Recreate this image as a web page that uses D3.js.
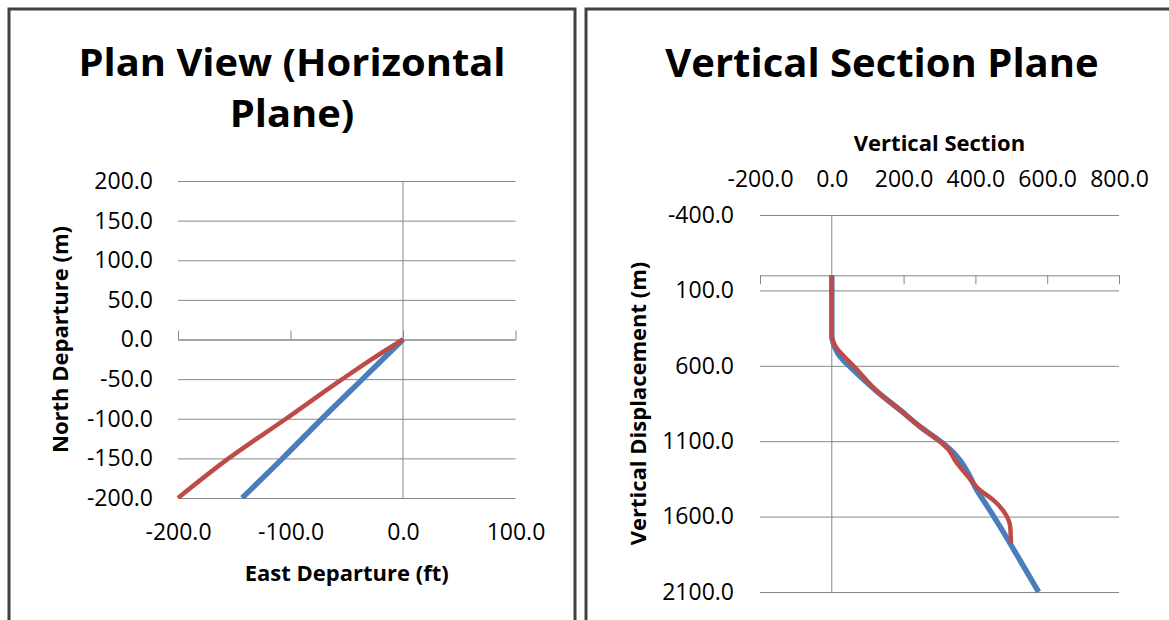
<!DOCTYPE html>
<html>
<head>
<meta charset="utf-8">
<script src="https://cdn.jsdelivr.net/npm/d3@7"></script>
<style>
  html, body { margin: 0; padding: 0; background: #fff; }
  svg { display: block; }
  text { font-family: "Open Sans", sans-serif; fill: #000; }
</style>
</head>
<body>
<svg id="chart" width="1169" height="620"></svg>
<script>
// ---------- data ----------
const planXTicks = [-200, -100, 0, 100];
const planYTicks = [-200, -150, -100, -50, 0, 50, 100, 150, 200];
// Plan view: East departure (x), North departure (y)
const planBlueEast  = [0, -36, -72, -107, -143];
const planBlueNorth = [0, -50, -100, -150, -200];
const planRedEast   = [0, -29, -54, -104, -155, -200];
const planRedNorth  = [0, -26, -50, -100, -150, -200];

const vsXTicks = [-200, 0, 200, 400, 600, 800];
const vsYTicks = [-400, 100, 600, 1100, 1600, 2100];
// Vertical section: section (x) vs vertical displacement (y)
const vsBlueSec   = [0, 0, 3, 9, 20, 33, 48, 132, 190, 246, 302, 330, 357, 385, 404, 422, 446, 469, 497, 576];
const vsBlueDepth = [0, 400, 440, 480, 530, 565, 600, 783, 893, 1004, 1100, 1155, 1226, 1336, 1425, 1491, 1580, 1668, 1779, 2100];
const vsRedSec    = [0, 0, 4, 14, 35, 60, 132, 190, 246, 300, 325, 343, 380, 413, 450, 483, 497, 499];
const vsRedDepth  = [0, 400, 445, 484, 540, 600, 783, 893, 1004, 1100, 1155, 1226, 1336, 1425, 1491, 1580, 1668, 1780];

const planTitle = ["Plan View (Horizontal", "Plane)"];

// ---------- styles ----------
const GRID = "#878787";
const BLUE = "#4A7EBB";
const RED = "#BE4B48";
const LABEL_SIZE = 23;
const fmt = d => d.toFixed(1);

const svg = d3.select("#chart");

// panel borders
svg.append("rect").attr("x", 9).attr("y", 9).attr("width", 566).attr("height", 640)
  .attr("fill", "none").attr("stroke", "#404040").attr("stroke-width", 3);
svg.append("rect").attr("x", 586).attr("y", 9).attr("width", 640).attr("height", 640)
  .attr("fill", "none").attr("stroke", "#404040").attr("stroke-width", 3);

// ================= LEFT: Plan View =================
const xL = d3.scaleLinear().domain([-200, 100]).range([178, 515.5]);
const yL = d3.scaleLinear().domain([-200, 200]).range([498, 181]);

// two-line title, slightly widened to match the reference proportions
const titleLines = svg.selectAll("text.ptitle").data(planTitle).join("text")
  .attr("class", "ptitle")
  .attr("x", 292).attr("y", (d, i) => 76 + i * 51)
  .attr("text-anchor", "middle").attr("font-size", 37).attr("font-weight", "bold")
  .text(d => d);
const widen = 427 / titleLines.node().getComputedTextLength();
titleLines.each(function () {
  const w = this.getComputedTextLength();
  d3.select(this).attr("textLength", w * widen).attr("lengthAdjust", "spacingAndGlyphs");
});

// y gridlines + labels
const gyL = svg.append("g").attr("transform", `translate(${xL(-200)},0)`)
  .call(d3.axisLeft(yL).tickValues(planYTicks).tickFormat(fmt)
    .tickSize(-(xL(100) - xL(-200))).tickPadding(25));
gyL.select(".domain").remove();
gyL.selectAll("line").attr("stroke", GRID);
gyL.selectAll("text").attr("font-size", LABEL_SIZE).attr("font-family", "Open Sans").attr("fill", "#000");

// vertical axis line at x=0
svg.append("line").attr("x1", xL(0)).attr("x2", xL(0)).attr("y1", yL(200)).attr("y2", yL(-200))
  .attr("stroke", GRID);

// horizontal axis at y=0 with ticks pointing up
const axL = svg.append("g").attr("transform", `translate(0,${yL(0)})`)
  .call(d3.axisTop(xL).tickValues(planXTicks).tickFormat("").tickSize(9).tickSizeOuter(0));
axL.selectAll("line,path").attr("stroke", GRID);

// x labels at bottom
const lxL = svg.append("g").attr("transform", `translate(0,${yL(-200)})`)
  .call(d3.axisBottom(xL).tickValues(planXTicks).tickFormat(fmt).tickSize(0).tickPadding(26));
lxL.select(".domain").remove();
lxL.selectAll("text").attr("font-size", LABEL_SIZE).attr("font-family", "Open Sans").attr("fill", "#000");

svg.append("text").attr("x", (xL(-200) + xL(100)) / 2).attr("y", 581).attr("text-anchor", "middle")
  .attr("font-size", 22).attr("font-weight", "bold").text("East Departure (ft)");
svg.append("text").attr("transform", `translate(68,${(yL(-200) + yL(200)) / 2}) rotate(-90)`)
  .attr("text-anchor", "middle").attr("font-size", 22).attr("font-weight", "bold")
  .text("North Departure (m)");

svg.append("clipPath").attr("id", "clipL").append("rect")
  .attr("x", xL(-200) - 4).attr("y", yL(200)).attr("width", xL(100) - xL(-200) + 8)
  .attr("height", yL(-200) - yL(200) + 1);

const lineL = d3.line().x(d => xL(d[0])).y(d => yL(d[1])).curve(d3.curveMonotoneY);
const gL = svg.append("g").attr("clip-path", "url(#clipL)");
gL.append("path").datum(planBlueEast.map((e, i) => [e, planBlueNorth[i]]))
  .attr("d", lineL).attr("fill", "none").attr("stroke", BLUE).attr("stroke-width", 5.5);
gL.append("path").datum(planRedEast.map((e, i) => [e, planRedNorth[i]]))
  .attr("d", lineL).attr("fill", "none").attr("stroke", RED).attr("stroke-width", 4.5);

// ================= RIGHT: Vertical Section =================
const xR = d3.scaleLinear().domain([-200, 800]).range([760, 1119]);
const yR = d3.scaleLinear().domain([-400, 2100]).range([215, 592]);

svg.append("text").attr("x", 882).attr("y", 77).attr("text-anchor", "middle")
  .attr("font-size", 40).attr("font-weight", "bold").text("Vertical Section Plane");

svg.append("text").attr("x", (xR(-200) + xR(800)) / 2).attr("y", 151).attr("text-anchor", "middle")
  .attr("font-size", 22).attr("font-weight", "bold").text("Vertical Section");

const gyR = svg.append("g").attr("transform", `translate(${xR(-200)},0)`)
  .call(d3.axisLeft(yR).tickValues(vsYTicks).tickFormat(fmt)
    .tickSize(-(xR(800) - xR(-200))).tickPadding(26));
gyR.select(".domain").remove();
gyR.selectAll("line").attr("stroke", GRID);
gyR.selectAll("text").attr("font-size", LABEL_SIZE).attr("font-family", "Open Sans").attr("fill", "#000");

svg.append("line").attr("x1", xR(0)).attr("x2", xR(0)).attr("y1", yR(-400)).attr("y2", yR(2100))
  .attr("stroke", GRID);

const axR = svg.append("g").attr("transform", `translate(0,${yR(0)})`)
  .call(d3.axisBottom(xR).tickValues(vsXTicks).tickFormat("").tickSize(9).tickSizeOuter(0));
axR.selectAll("line,path").attr("stroke", GRID);

const lxR = svg.append("g").attr("transform", `translate(0,${yR(-400)})`)
  .call(d3.axisTop(xR).tickValues(vsXTicks).tickFormat(fmt).tickSize(0).tickPadding(28));
lxR.select(".domain").remove();
lxR.selectAll("text").attr("font-size", LABEL_SIZE).attr("font-family", "Open Sans").attr("fill", "#000");

svg.append("text").attr("transform", `translate(646,${(yR(-400) + yR(2100)) / 2}) rotate(-90)`)
  .attr("text-anchor", "middle").attr("font-size", 22).attr("font-weight", "bold")
  .text("Vertical Displacement (m)");

const lineR = d3.line().x(d => xR(d[0])).y(d => yR(d[1])).curve(d3.curveMonotoneY);
svg.append("path").datum(vsBlueSec.map((s, i) => [s, vsBlueDepth[i]]))
  .attr("d", lineR).attr("fill", "none").attr("stroke", BLUE).attr("stroke-width", 5.5);
svg.append("path").datum(vsRedSec.map((s, i) => [s, vsRedDepth[i]]))
  .attr("d", lineR).attr("fill", "none").attr("stroke", RED).attr("stroke-width", 4.5);
</script>
</body>
</html>
